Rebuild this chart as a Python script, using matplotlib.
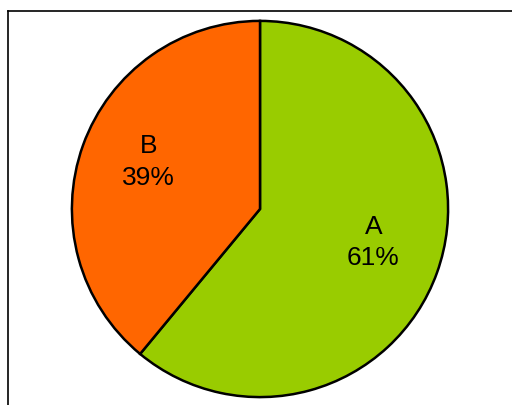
import matplotlib.pyplot as plt
from matplotlib.lines import Line2D

labels = ["A", "B"]
shares = [61, 39]
colors = ["#99CC00", "#FF6600"]

W, H = 512, 406
fig = plt.figure(figsize=(W / 100, H / 100), dpi=100)
fig.patch.set_facecolor("white")

# pie area: centre (260, 210) px, radius 190 px
cx, cy, r = 260, 210, 190
ax = fig.add_axes([(cx - r) / W, (H - cy - r) / H, 2 * r / W, 2 * r / H])

wedges, texts = ax.pie(
    shares, colors=colors, startangle=90, counterclock=False, radius=0.99,
    labels=[f"{l}\n{s}%" for l, s in zip(labels, shares)],
    labeldistance=0.635,
    wedgeprops=dict(edgecolor="black", linewidth=1.8),
    textprops=dict(fontsize=19, family=["Liberation Sans", "DejaVu Sans"],
                   color="black", linespacing=1.38),
)
for t in texts:
    x, y = t.get_position()
    t.set_position((x + 0.005, y + 0.04))
    t.set_ha("center")
    t.set_va("center")

# pie() resets the limits, so set them afterwards
ax.set_xlim(-1, 1)
ax.set_ylim(-1, 1)
ax.axis("off")

# frame lines: top and left only
fig.add_artist(Line2D([7.5 / W, 1], [1 - 11.5 / H, 1 - 11.5 / H],
                      transform=fig.transFigure, color="black", lw=1.2))
fig.add_artist(Line2D([7.5 / W, 7.5 / W], [0, 1 - 11.5 / H],
                      transform=fig.transFigure, color="black", lw=1.2))

fig.savefig("out.png", dpi=100, facecolor="white")
